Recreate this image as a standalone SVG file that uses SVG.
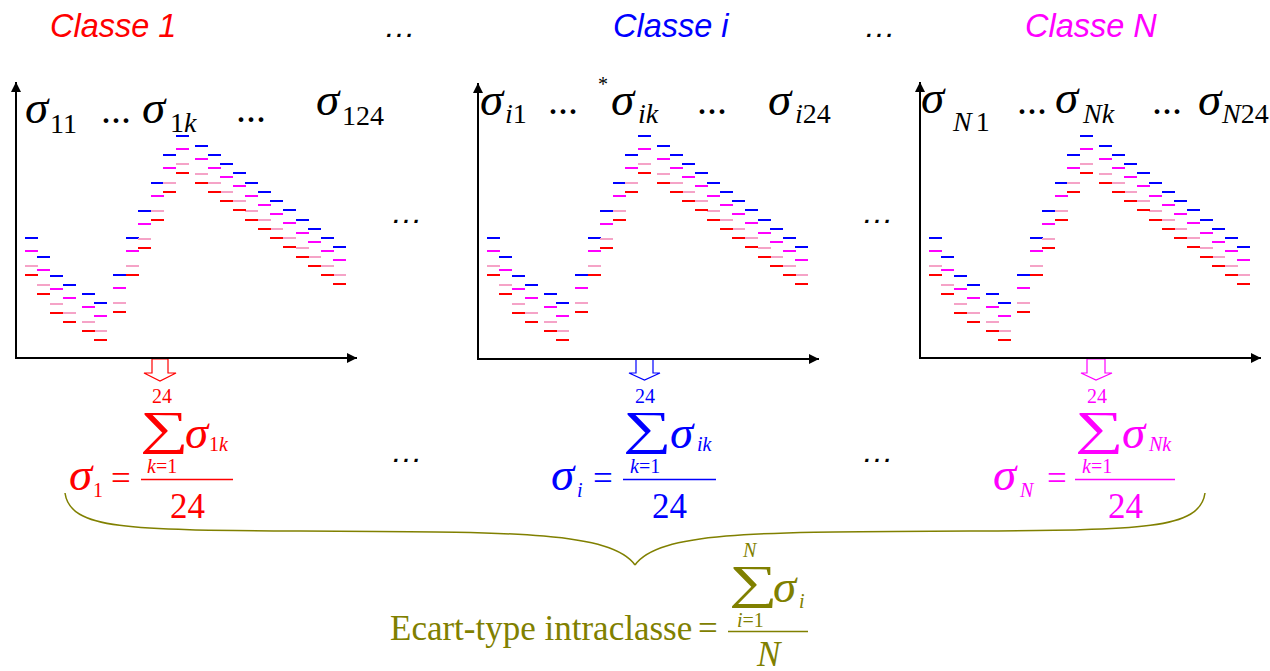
<svg xmlns="http://www.w3.org/2000/svg" xmlns:xlink="http://www.w3.org/1999/xlink" width="1270" height="671" viewBox="0 0 1270 671">
<style>
.ttl{font-family:"Liberation Sans",Arial,sans-serif;font-style:italic;font-size:32.5px}
.ell{font-family:"Liberation Sans",Arial,sans-serif;font-style:italic;font-size:32px;fill:#000}
.ser{font-family:"Liberation Serif","Times New Roman",serif}
.sig{font-family:"Liberation Serif","Times New Roman",serif;font-style:italic;font-size:47px}
.sub{font-family:"Liberation Serif","Times New Roman",serif;font-size:28px}
.sm{font-family:"Liberation Serif","Times New Roman",serif;font-size:20px}
.big{font-family:"Liberation Serif","Times New Roman",serif;font-size:35px}
.sum{font-family:"Liberation Serif","Times New Roman",serif;font-size:47px}
.it{font-style:italic}
.axis{fill:none;stroke:#000;stroke-width:2}
.d{fill:none;stroke-width:2}
.blk{fill:#000}
.red{fill:#ff0000}
.blu{fill:#0000ff}
.mag{fill:#ff00ff}
.olv{fill:#808000}
.frac{stroke-width:1.5}
</style>
<defs>
<marker id="ah" viewBox="0 0 10 10" refX="10" refY="5" markerWidth="11" markerHeight="10" markerUnits="userSpaceOnUse" orient="auto-start-reverse">
<path d="M0,0 L10,5 L0,10 z" fill="#000"/>
</marker>
<g id="dashes">
<path class="d" stroke="#0000ff" d="M25 238h13M37 257h13M50 276h13M63 285h13M82 294h13M94 303h13M113 275h13M126 238h13M138 211h13M151 183h13M163 155h13M176 136h13M195 146h13M208 155h13M220 164h13M233 173h13M245 183h13M258 192h13M270 201h13M283 210h13M296 220h13M308 229h13M321 238h13M333 247h13"/>
<path class="d" stroke="#ff00ff" d="M25 251h13M37 270h13M50 289h13M63 298h13M82 307h13M94 316h13M113 288h13M126 251h13M138 224h13M151 196h13M163 168h13M176 149h13M195 159h13M208 168h13M220 177h13M233 186h13M245 196h13M258 205h13M270 214h13M283 223h13M296 233h13M308 242h13M321 251h13M333 260h13"/>
<path class="d" stroke="#f5a3c7" d="M25 266h13M37 285h13M50 304h13M63 313h13M82 322h13M94 331h13M113 303h13M126 266h13M138 239h13M151 211h13M163 183h13M176 164h13M195 174h13M208 183h13M220 192h13M233 201h13M245 211h13M258 220h13M270 229h13M283 238h13M296 248h13M308 257h13M321 266h13M333 275h13"/>
<path class="d" stroke="#ff0000" d="M25 275h13M37 294h13M50 313h13M63 322h13M82 331h13M94 340h13M113 312h13M126 275h13M138 248h13M151 220h13M163 192h13M176 173h13M195 183h13M208 192h13M220 201h13M233 210h13M245 220h13M258 229h13M270 238h13M283 247h13M296 257h13M308 266h13M321 275h13M333 284h13"/>
</g>
<path id="axes" class="axis" d="M16,82 V358 H357" marker-start="url(#ah)" marker-end="url(#ah)"/>
</defs>

<!-- titles -->
<text class="ttl red" x="50" y="37">Classe 1</text>
<text class="ttl blu" x="613" y="37">Classe i</text>
<text class="ttl mag" x="1025" y="37">Classe N</text>
<text class="ell" x="384" y="37">…</text>
<text class="ell" x="864" y="37">…</text>
<text class="ell" x="391" y="223">…</text>
<text class="ell" x="862" y="223">…</text>
<text class="ell" x="391" y="462">…</text>
<text class="ell" x="862" y="462">…</text>

<!-- arrows (drawn under axes) -->
<g id="arrows">
<polygon points="152,359 168,359 168,373 176,373 160,381 144,373 152,373" fill="#fff" stroke="#ff0000" stroke-width="1.2"/>
<polygon points="636,359 653,359 653,373 660,373 644.5,380 629,373 636,373" fill="#fff" stroke="#0000ff" stroke-width="1.2"/>
<polygon points="1087,359 1105,359 1105,373 1112,373 1096,380 1081,373 1087,373" fill="#fff" stroke="#ff00ff" stroke-width="1.2"/>
</g>

<!-- chart 1 -->
<g id="chart1">
<use xlink:href="#dashes" href="#dashes"/>
<use xlink:href="#axes" href="#axes"/>
<text class="sig blk" x="25" y="123">σ</text>
<text class="sub blk" x="50" y="133">11</text>
<text class="ser blk" font-size="40" x="101" y="123">...</text>
<text class="sig blk" x="142" y="123">σ</text>
<text class="sub blk" x="170" y="132">1<tspan class="it">k</tspan></text>
<text class="ser blk" font-size="40" x="236" y="122">...</text>
<text class="sig blk" x="316" y="115">σ</text>
<text class="sub blk" x="342" y="125">124</text>
</g>

<!-- chart i -->
<g id="chart2">
<use xlink:href="#dashes" href="#dashes" transform="translate(462,0)"/>
<use xlink:href="#axes" href="#axes" transform="translate(462,1)"/>
<text class="sig blk" x="480" y="115">σ</text>
<text class="sub blk" x="505" y="123"><tspan class="it">i</tspan>1</text>
<text class="ser blk" font-size="40" x="548" y="114">...</text>
<text class="ser blk" font-size="20" x="598" y="91">*</text>
<text class="sig blk" x="611" y="115">σ</text>
<text class="sub blk it" x="638" y="123">ik</text>
<text class="ser blk" font-size="40" x="697" y="114">...</text>
<text class="sig blk" x="768" y="115">σ</text>
<text class="sub blk" x="795" y="123"><tspan class="it">i</tspan>24</text>
</g>

<!-- chart N -->
<g id="chart3">
<use xlink:href="#dashes" href="#dashes" transform="translate(904,0)"/>
<use xlink:href="#axes" href="#axes" transform="translate(904,0)"/>
<text class="sig blk" x="921" y="113">σ</text>
<text class="sub blk" x="953" y="131"><tspan class="it">N</tspan><tspan dx="4">1</tspan></text>
<text class="ser blk" font-size="40" x="1017" y="114">...</text>
<text class="sig blk" x="1055" y="113">σ</text>
<text class="sub blk it" x="1083" y="123">Nk</text>
<text class="ser blk" font-size="40" x="1152" y="114">...</text>
<text class="sig blk" x="1198" y="115">σ</text>
<text class="sub blk" x="1222" y="123"><tspan class="it">N</tspan>24</text>
</g>

<!-- formula 1 -->
<g id="formula1">
<text class="sm red" x="152" y="403">24</text>
<text class="sum red" transform="translate(140,444) scale(1.45,1)">∑</text>
<text class="sig red" x="185" y="448">σ</text>
<text class="sm red" x="209" y="451">1<tspan class="it">k</tspan></text>
<text class="sm red" x="147" y="473"><tspan class="it">k</tspan>=1</text>
<text class="sig red" x="69" y="490">σ</text>
<text class="sm red" x="93" y="497">1</text>
<text class="big red" x="111" y="490">=</text>
<line class="frac" x1="141" y1="479.5" x2="233" y2="479.5" stroke="#ff0000"/>
<text class="big red" x="170" y="518">24</text>
</g>

<!-- formula i -->
<g id="formula2">
<text class="sm blu" x="635" y="403">24</text>
<text class="sum blu" transform="translate(623,444) scale(1.45,1)">∑</text>
<text class="sig blu" x="670" y="448">σ</text>
<text class="sm blu it" x="697" y="451">ik</text>
<text class="sm blu" x="630" y="473"><tspan class="it">k</tspan>=1</text>
<text class="sig blu" x="551" y="490">σ</text>
<text class="sm blu it" x="577" y="497">i</text>
<text class="big blu" x="593" y="490">=</text>
<line class="frac" x1="623" y1="479.5" x2="716" y2="479.5" stroke="#0000ff"/>
<text class="big blu" x="652" y="518">24</text>
</g>

<!-- formula N -->
<g id="formula3">
<text class="sm mag" x="1087" y="403">24</text>
<text class="sum mag" transform="translate(1075,444) scale(1.45,1)">∑</text>
<text class="sig mag" x="1122" y="448">σ</text>
<text class="sm mag it" x="1149" y="451">Nk</text>
<text class="sm mag" x="1082" y="473"><tspan class="it">k</tspan>=1</text>
<text class="sig mag" x="993" y="490">σ</text>
<text class="sm mag it" x="1020" y="497">N</text>
<text class="big mag" x="1047" y="490">=</text>
<line class="frac" x1="1075" y1="479.5" x2="1175" y2="479.5" stroke="#ff00ff"/>
<text class="big mag" x="1108" y="518">24</text>
</g>

<!-- brace -->
<g id="connectors">
<path d="M65,493 C70,530 130,530 300,531 C500,532 610,530 635,565 M1205,493 C1200,530 1140,530 970,531 C770,532 660,530 635,565" fill="none" stroke="#808000" stroke-width="1.5"/>
</g>

<!-- final formula -->
<g id="formula-total">
<text class="big olv" x="390" y="640">Ecart-type intraclasse</text>
<text class="big olv" x="698" y="640">=</text>
<text class="sm olv it" x="743" y="557">N</text>
<text class="sum olv" transform="translate(729,598) scale(1.45,1)">∑</text>
<text class="sig olv" x="773" y="602">σ</text>
<text class="sm olv it" x="799" y="608">i</text>
<text class="sm olv" x="737" y="627"><tspan class="it">i</tspan>=1</text>
<line class="frac" x1="728" y1="631.5" x2="808" y2="631.5" stroke="#808000"/>
<text class="big olv it" x="757" y="666">N</text>
</g>
</svg>
